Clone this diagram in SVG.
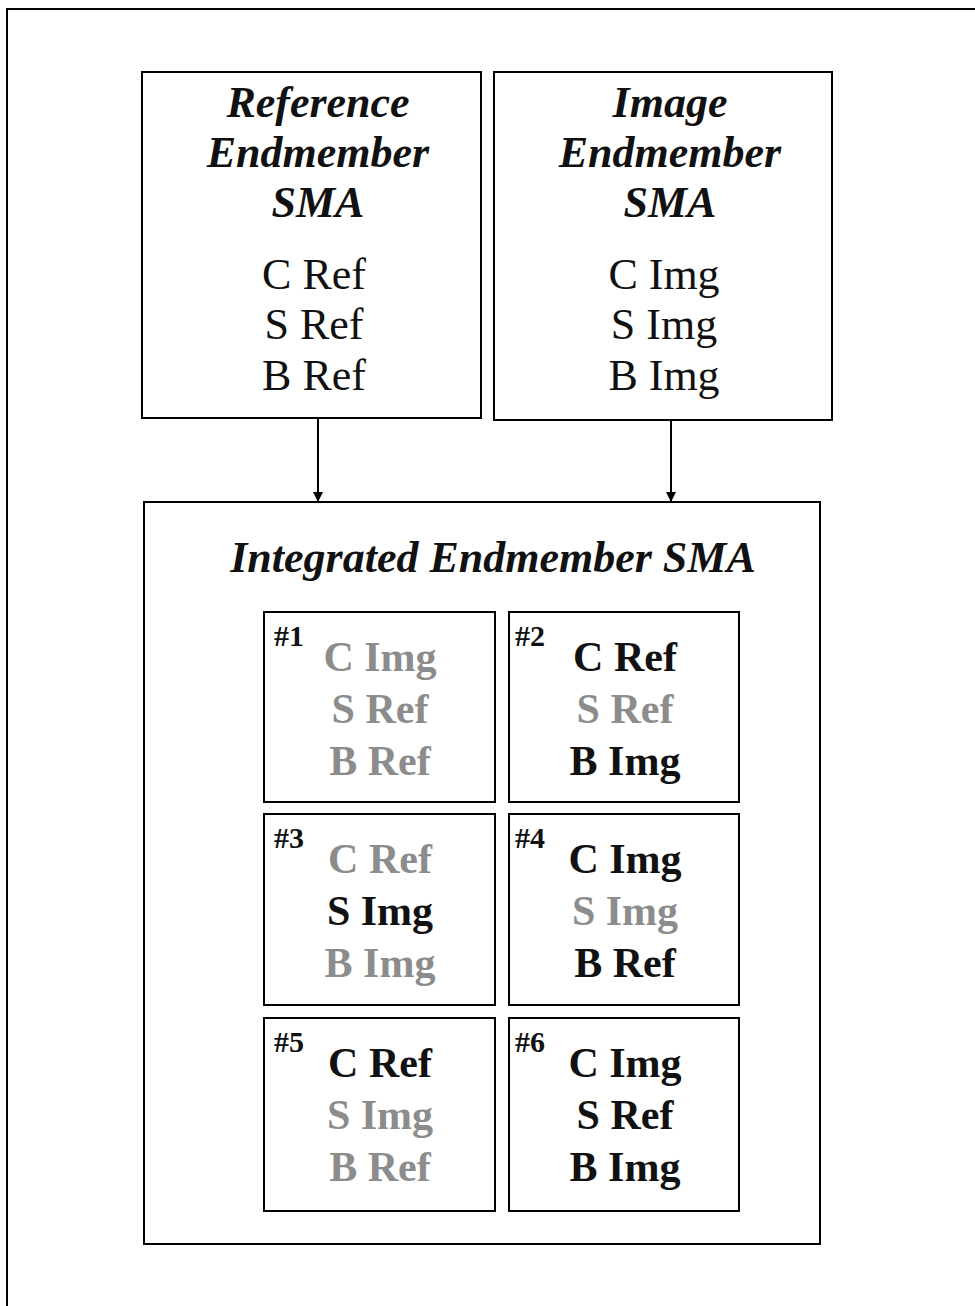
<svg xmlns="http://www.w3.org/2000/svg" width="975" height="1306" viewBox="0 0 975 1306">
<defs>
<style>
.box{fill:#fff;stroke:#000;stroke-width:2}
.hd{font-family:"Liberation Serif",serif;font-weight:bold;font-style:italic;font-size:44px;fill:#111;text-anchor:middle}
.tx{font-family:"Liberation Serif",serif;font-size:44px;fill:#111;text-anchor:middle}
.b{font-family:"Liberation Serif",serif;font-weight:bold;font-size:42px;fill:#111;text-anchor:middle}
.g{font-family:"Liberation Serif",serif;font-weight:bold;font-size:42px;fill:#8c8c8c;text-anchor:middle}
.num{font-family:"Liberation Serif",serif;font-weight:bold;font-size:30px;fill:#111}
.conn{stroke:#000;stroke-width:2;fill:none}
</style>
<marker id="ah" viewBox="0 0 10 10" refX="10" refY="5" markerWidth="10" markerHeight="10" markerUnits="userSpaceOnUse" orient="auto">
<path d="M0,0 L10,5 L0,10 Z" fill="#000"/>
</marker>
</defs>
<rect width="975" height="1306" fill="#fff"/>
<rect x="7" y="9" width="990" height="1320" fill="none" stroke="#000" stroke-width="2"/>

<g id="ref-sma">
<rect class="box" x="142" y="72" width="339" height="346"/>
<text class="hd" x="318" y="117">Reference</text>
<text class="hd" x="318" y="167">Endmember</text>
<text class="hd" x="318" y="217">SMA</text>
<text class="tx" x="314" y="289">C Ref</text>
<text class="tx" x="314" y="339">S Ref</text>
<text class="tx" x="314" y="390">B Ref</text>
</g>

<g id="img-sma">
<rect class="box" x="494" y="72" width="338" height="348"/>
<text class="hd" x="670" y="117">Image</text>
<text class="hd" x="670" y="167">Endmember</text>
<text class="hd" x="670" y="217">SMA</text>
<text class="tx" x="664" y="289">C Img</text>
<text class="tx" x="664" y="339">S Img</text>
<text class="tx" x="664" y="390">B Img</text>
</g>

<g id="connectors">
<line class="conn" x1="318" y1="419" x2="318" y2="502" marker-end="url(#ah)"/>
<line class="conn" x1="671" y1="421" x2="671" y2="502" marker-end="url(#ah)"/>
</g>

<g id="integrated">
<rect class="box" x="144" y="502" width="676" height="742"/>
<text class="hd" x="493" y="572">Integrated Endmember SMA</text>
</g>

<g id="combo1">
<rect class="box" x="264" y="612" width="231" height="190"/>
<text class="num" x="274" y="646">#1</text>
<text class="g" x="380" y="671">C Img</text>
<text class="g" x="380" y="723">S Ref</text>
<text class="g" x="380" y="775">B Ref</text>
</g>
<g id="combo2">
<rect class="box" x="509" y="612" width="230" height="190"/>
<text class="num" x="515" y="646">#2</text>
<text class="b" x="625" y="671">C Ref</text>
<text class="g" x="625" y="723">S Ref</text>
<text class="b" x="625" y="775">B Img</text>
</g>
<g id="combo3">
<rect class="box" x="264" y="814" width="231" height="191"/>
<text class="num" x="274" y="848">#3</text>
<text class="g" x="380" y="873">C Ref</text>
<text class="b" x="380" y="925">S Img</text>
<text class="g" x="380" y="977">B Img</text>
</g>
<g id="combo4">
<rect class="box" x="509" y="814" width="230" height="191"/>
<text class="num" x="515" y="848">#4</text>
<text class="b" x="625" y="873">C Img</text>
<text class="g" x="625" y="925">S Img</text>
<text class="b" x="625" y="977">B Ref</text>
</g>
<g id="combo5">
<rect class="box" x="264" y="1018" width="231" height="193"/>
<text class="num" x="274" y="1052">#5</text>
<text class="b" x="380" y="1077">C Ref</text>
<text class="g" x="380" y="1129">S Img</text>
<text class="g" x="380" y="1181">B Ref</text>
</g>
<g id="combo6">
<rect class="box" x="509" y="1018" width="230" height="193"/>
<text class="num" x="515" y="1052">#6</text>
<text class="b" x="625" y="1077">C Img</text>
<text class="b" x="625" y="1129">S Ref</text>
<text class="b" x="625" y="1181">B Img</text>
</g>
</svg>
